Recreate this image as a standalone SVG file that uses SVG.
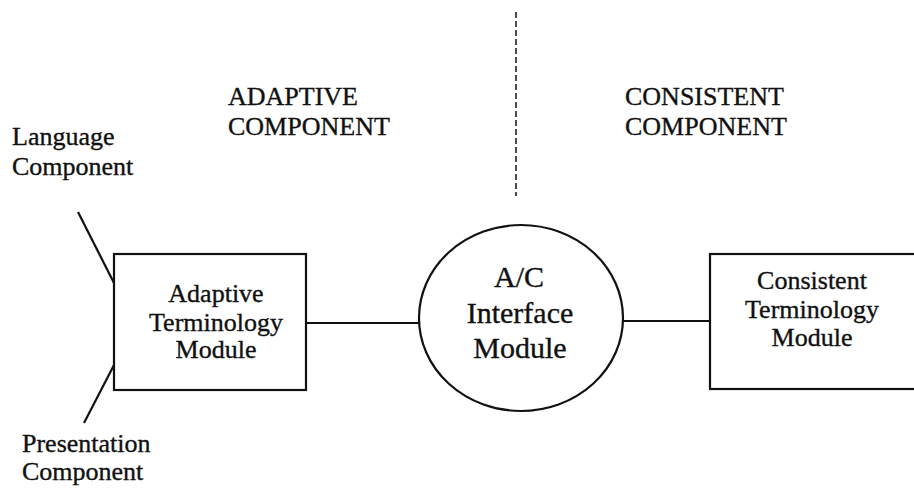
<svg xmlns="http://www.w3.org/2000/svg" width="914" height="493" viewBox="0 0 914 493">
  <style>
    text { font-family: "Liberation Serif", "Times New Roman", serif; fill: #111; stroke: #111; stroke-width: 0.35; }
    .lbl { font-size: 26px; }
    .mid { text-anchor: middle; }
    .big { font-size: 30px; }
    .shape { fill: #fff; stroke: #111; stroke-width: 2.2; }
    .wire { stroke: #111; stroke-width: 2.2; fill: none; }
    .divider { stroke: #111; stroke-width: 1.5; stroke-dasharray: 6 3; fill: none; }
  </style>
  <rect width="914" height="493" fill="#fff"/>

  <!-- region headings and divider -->
  <g id="region-divider">
    <line class="divider" x1="516" y1="12" x2="516" y2="196"/>
  </g>
  <g id="adaptive-heading">
    <text class="lbl" x="228" y="105">ADAPTIVE</text>
    <text class="lbl" x="228" y="135">COMPONENT</text>
  </g>
  <g id="consistent-heading">
    <text class="lbl" x="625" y="105">CONSISTENT</text>
    <text class="lbl" x="625" y="135">COMPONENT</text>
  </g>

  <!-- connectors -->
  <g id="connectors">
    <line class="wire" x1="78" y1="212" x2="114" y2="283"/>
    <line class="wire" x1="114" y1="365" x2="84" y2="423"/>
    <line class="wire" x1="306" y1="323" x2="419" y2="323"/>
    <line class="wire" x1="623" y1="321" x2="710" y2="321"/>
  </g>

  <g id="language-component">
    <text class="lbl" x="12" y="145">Language</text>
    <text class="lbl" x="12" y="175">Component</text>
  </g>

  <g id="presentation-component">
    <text class="lbl" x="22" y="452">Presentation</text>
    <text class="lbl" x="22" y="480">Component</text>
  </g>

  <g id="adaptive-terminology-module">
    <rect class="shape" x="114" y="254" width="192" height="136"/>
    <text class="lbl mid" x="216" y="302">Adaptive</text>
    <text class="lbl mid" x="216" y="331">Terminology</text>
    <text class="lbl mid" x="216" y="358">Module</text>
  </g>

  <g id="ac-interface-module">
    <ellipse class="shape" cx="521" cy="318" rx="102" ry="93"/>
    <text class="big mid" x="519" y="287">A/C</text>
    <text class="big mid" x="520" y="323">Interface</text>
    <text class="big mid" x="520" y="358">Module</text>
  </g>

  <g id="consistent-terminology-module">
    <rect class="shape" x="710" y="254" width="220" height="135"/>
    <text class="lbl mid" x="812" y="289">Consistent</text>
    <text class="lbl mid" x="812" y="318">Terminology</text>
    <text class="lbl mid" x="812" y="346">Module</text>
  </g>
</svg>
